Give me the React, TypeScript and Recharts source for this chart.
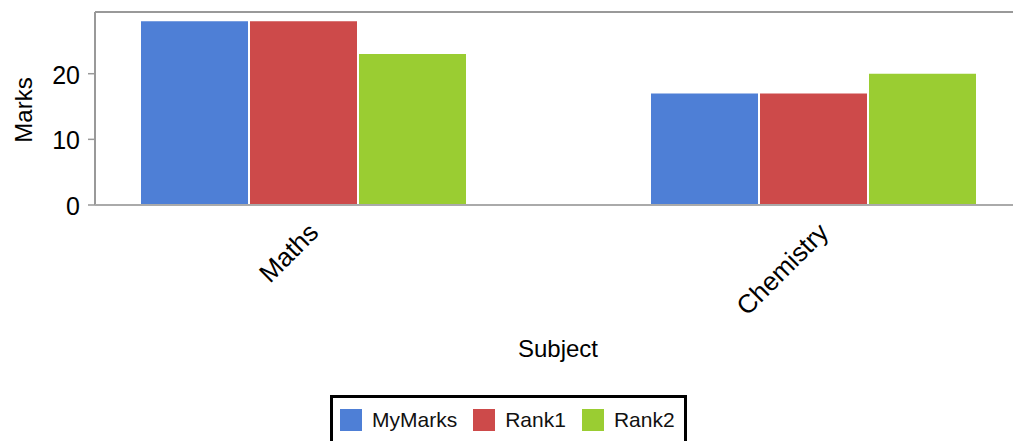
import React from 'react'
import { BarChart, Bar, XAxis, YAxis, ReferenceLine, Label } from 'recharts'

const subjects = ['Maths', 'Chemistry']
const myMarks = [28, 17]
const rank1 = [28, 17]
const rank2 = [23, 20]
const yTicks = [0, 10, 20]
const yMax = 29.4

const SERIES = [
  { key: 'MyMarks', color: '#4E7FD6' },
  { key: 'Rank1', color: '#CD4A4A' },
  { key: 'Rank2', color: '#9ACD32' },
]

const FONT = '"Liberation Sans", Arial, sans-serif'

const data = subjects.map((s, i) => ({
  subject: s,
  MyMarks: myMarks[i],
  Rank1: rank1[i],
  Rank2: rank2[i],
}))

function XTick(props: any) {
  const { x, y, payload } = props
  const tx = x + 17
  const ty = y + 29
  return (
    <text x={tx} y={ty} transform={`rotate(-45, ${tx}, ${ty})`} textAnchor="end"
      fontSize={26} fontFamily={FONT} fill="#000">
      {payload.value}
    </text>
  )
}

function Legendbox() {
  return (
    <div style={{
      position: 'absolute', left: 330, top: 395, border: '3px solid #000', background: '#fff',
      padding: '10px 9px 20px 7px', display: 'flex', alignItems: 'center', fontFamily: FONT, fontSize: 21,
    }}>
      {SERIES.map((s, i) => (
        <div key={s.key} style={{ display: 'flex', alignItems: 'center', marginRight: i < SERIES.length - 1 ? 16 : 0 }}>
          <span style={{ width: 22, height: 22, background: s.color, display: 'inline-block' }} />
          <span style={{ marginLeft: 10, color: '#111' }}>{s.key}</span>
        </div>
      ))}
    </div>
  )
}

export default function App() {
  return (
    <div style={{ position: 'absolute', left: 0, top: 0, width: 1013, height: 441, overflow: 'hidden', background: '#fff' }}>
      <BarChart width={1013} height={441} data={data} barGap={2} barSize={107}
        margin={{ top: 12, right: 0, left: 0, bottom: 0 }}>
        <YAxis width={95} domain={[0, yMax]} ticks={yTicks} allowDataOverflow
          axisLine={{ stroke: '#999', strokeWidth: 2 }} tickLine={{ stroke: '#999', strokeWidth: 1.5 }}
          tickSize={7} tickMargin={8}
          tick={{ fontSize: 25, fontFamily: FONT, fill: '#000', dy: 1 }}>
          <Label content={(p: any) => {
            const vb = p.viewBox
            const cx = 32
            const cy = vb.y + vb.height / 2 + 1.5
            return (
              <text x={cx} y={cy} transform={`rotate(-90, ${cx}, ${cy})`} textAnchor="middle"
                fontSize={24} fontFamily={FONT} fill="#000">Marks</text>
            )
          }} />
        </YAxis>
        <XAxis dataKey="subject" height={236} padding={{ left: -47, right: -55 }}
          axisLine={{ stroke: '#aaa', strokeWidth: 2 }} tickLine={false} tickSize={0} tickMargin={0}
          interval={0} tick={<XTick />}>
          <Label content={(p: any) => {
            const vb = p.viewBox
            return (
              <text x={vb.x + vb.width / 2 + 4} y={356.5} textAnchor="middle"
                fontSize={24} fontFamily={FONT} fill="#000">Subject</text>
            )
          }} />
        </XAxis>
        <ReferenceLine y={yMax} stroke="#999" strokeWidth={2} />
        {SERIES.map(s => (
          <Bar key={s.key} dataKey={s.key} fill={s.color} isAnimationActive={false} />
        ))}
        <ReferenceLine y={0} stroke="#888" strokeWidth={1} strokeDasharray="4 4" />
      </BarChart>
      <Legendbox />
    </div>
  )
}
